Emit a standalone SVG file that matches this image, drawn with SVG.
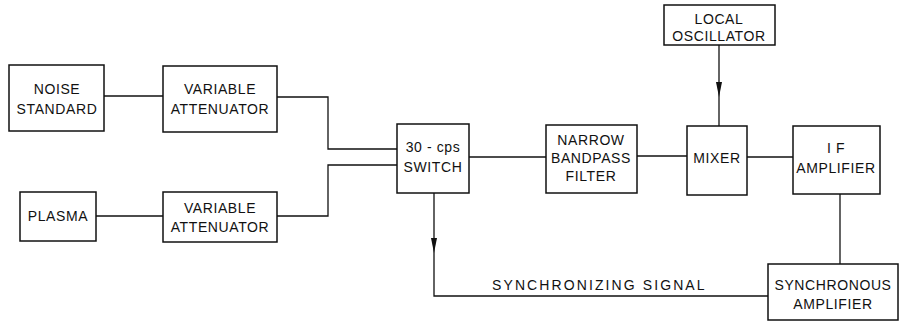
<svg xmlns="http://www.w3.org/2000/svg" xmlns:xlink="http://www.w3.org/1999/xlink" width="901" height="324" viewBox="0 0 901 324">
<style>
.box{fill:#fff;stroke:#111;stroke-width:1.5}
.ln{fill:none;stroke:#111;stroke-width:1.3}
.t{font-family:"Liberation Sans",Arial,sans-serif;font-size:14px;fill:#111;text-anchor:middle;letter-spacing:0.6px}
.lbl{font-family:"Liberation Sans",Arial,sans-serif;font-size:14px;fill:#111;letter-spacing:2.1px}
.ah{fill:#111}
</style>
<defs>
<path id="ah" d="M-3,-15 L0,0 L3,-15 Z"/>
</defs>
<rect width="901" height="324" fill="#fff"/>
<g id="connectors">
<path class="ln" d="M104,96 H163"/>
<path class="ln" d="M277,97 H328 V149 H397"/>
<path class="ln" d="M96,216 H163"/>
<path class="ln" d="M277,216 H328 V165 H397"/>
<path class="ln" d="M469,157 H546"/>
<path class="ln" d="M637,156 H687"/>
<path class="ln" d="M747,157 H793"/>
<path class="ln" d="M719,45 V126"/>
<use href="#ah" class="ah" x="719" y="97"/>
<path class="ln" d="M840,194 V264"/>
<path class="ln" d="M768,296 H434 V193"/>
<use href="#ah" class="ah" x="434" y="253"/>
<text class="lbl" x="492" y="290">SYNCHRONIZING SIGNAL</text>
</g>
<g id="noise-standard">
<rect class="box" x="9" y="65" width="95" height="66"/>
<text class="t" x="57" y="94">NOISE</text>
<text class="t" x="57" y="114">STANDARD</text>
</g>
<g id="attenuator-1">
<rect class="box" x="163" y="66" width="114" height="66"/>
<text class="t" x="220" y="94">VARIABLE</text>
<text class="t" x="220" y="114">ATTENUATOR</text>
</g>
<g id="plasma">
<rect class="box" x="20" y="192" width="76" height="49"/>
<text class="t" x="58" y="221">PLASMA</text>
</g>
<g id="attenuator-2">
<rect class="box" x="163" y="192" width="114" height="50"/>
<text class="t" x="220" y="213">VARIABLE</text>
<text class="t" x="220" y="232">ATTENUATOR</text>
</g>
<g id="switch">
<rect class="box" x="397" y="124" width="72" height="69"/>
<text class="t" x="433" y="152">30 - cps</text>
<text class="t" x="433" y="172">SWITCH</text>
</g>
<g id="bandpass-filter">
<rect class="box" x="546" y="125" width="91" height="68"/>
<text class="t" x="591" y="145">NARROW</text>
<text class="t" x="591" y="163">BANDPASS</text>
<text class="t" x="591" y="181">FILTER</text>
</g>
<g id="mixer">
<rect class="box" x="687" y="126" width="60" height="69"/>
<text class="t" x="717" y="163">MIXER</text>
</g>
<g id="local-oscillator">
<rect class="box" x="664" y="5" width="111" height="40"/>
<text class="t" x="719" y="24">LOCAL</text>
<text class="t" x="719" y="41">OSCILLATOR</text>
</g>
<g id="if-amplifier">
<rect class="box" x="793" y="126" width="87" height="68"/>
<text class="t" x="836" y="153">I F</text>
<text class="t" x="836" y="173">AMPLIFIER</text>
</g>
<g id="synchronous-amplifier">
<rect class="box" x="768" y="264" width="130" height="56"/>
<text class="t" x="833" y="290">SYNCHRONOUS</text>
<text class="t" x="833" y="309">AMPLIFIER</text>
</g>
</svg>
